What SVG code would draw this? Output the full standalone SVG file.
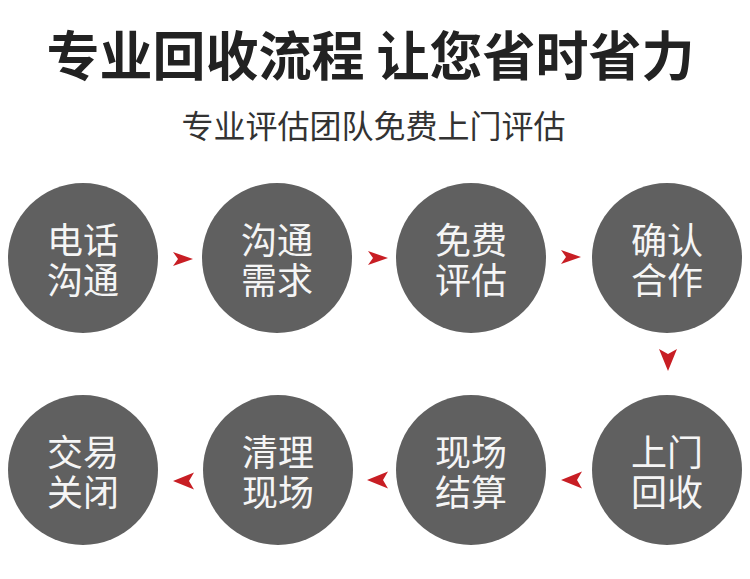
<svg xmlns="http://www.w3.org/2000/svg" width="750" height="579" viewBox="0 0 750 579">
  <style>
    .title { font-family: "Noto Sans CJK SC", "Liberation Sans", sans-serif; font-weight: 700; font-size: 53px; fill: #222222; }
    .sub { font-family: "Noto Sans CJK SC", "Liberation Sans", sans-serif; font-weight: 400; font-size: 32px; fill: #333333; }
    .node circle { fill: #606060; }
    .node text { font-family: "Noto Sans CJK SC", "Liberation Sans", sans-serif; font-weight: 400; font-size: 36px; fill: #f5f5f5; text-anchor: middle; }
    .arrow { fill: #c81e24; }
  </style>
  <defs>
    <path id="arR" d="M -10,-7 L 10,0 L -10,7 L -5,0 Z"/>
    <path id="arL" d="M 10,-8.5 L -11,0 L 10,8.5 L 5,0 Z"/>
    <path id="arD" d="M -9,-11 L 0,-6 L 9,-11 L 0,11 Z"/>
  </defs>
  <rect width="750" height="579" fill="#ffffff"/>
  <text class="title" x="370.5" y="76" text-anchor="middle">专业回收流程 让您省时省力</text>
  <text class="sub" x="373.5" y="138" text-anchor="middle">专业评估团队免费上门评估</text>

  <g id="n1" class="node"><circle cx="83" cy="258" r="75"/><text x="83" y="254">电话</text><text x="83" y="294">沟通</text></g>
  <g id="n2" class="node"><circle cx="277" cy="258" r="75"/><text x="277" y="254">沟通</text><text x="277" y="294">需求</text></g>
  <g id="n3" class="node"><circle cx="471" cy="258" r="75"/><text x="471" y="254">免费</text><text x="471" y="294">评估</text></g>
  <g id="n4" class="node"><circle cx="667" cy="258" r="75"/><text x="667" y="254">确认</text><text x="667" y="294">合作</text></g>
  <g id="n5" class="node"><circle cx="667" cy="470" r="75"/><text x="667" y="466">上门</text><text x="667" y="506">回收</text></g>
  <g id="n6" class="node"><circle cx="471" cy="470" r="75"/><text x="471" y="466">现场</text><text x="471" y="506">结算</text></g>
  <g id="n7" class="node"><circle cx="278" cy="470" r="75"/><text x="278" y="466">清理</text><text x="278" y="506">现场</text></g>
  <g id="n8" class="node"><circle cx="83" cy="470" r="75"/><text x="83" y="466">交易</text><text x="83" y="506">关闭</text></g>

  <g id="connectors" class="arrow">
    <use href="#arR" x="183" y="259"/>
    <use href="#arR" x="378" y="258"/>
    <use href="#arR" x="571" y="257"/>
    <use href="#arD" x="668" y="360"/>
    <use href="#arL" x="572" y="480"/>
    <use href="#arL" x="378" y="480"/>
    <use href="#arL" x="184" y="481"/>
  </g>
</svg>
